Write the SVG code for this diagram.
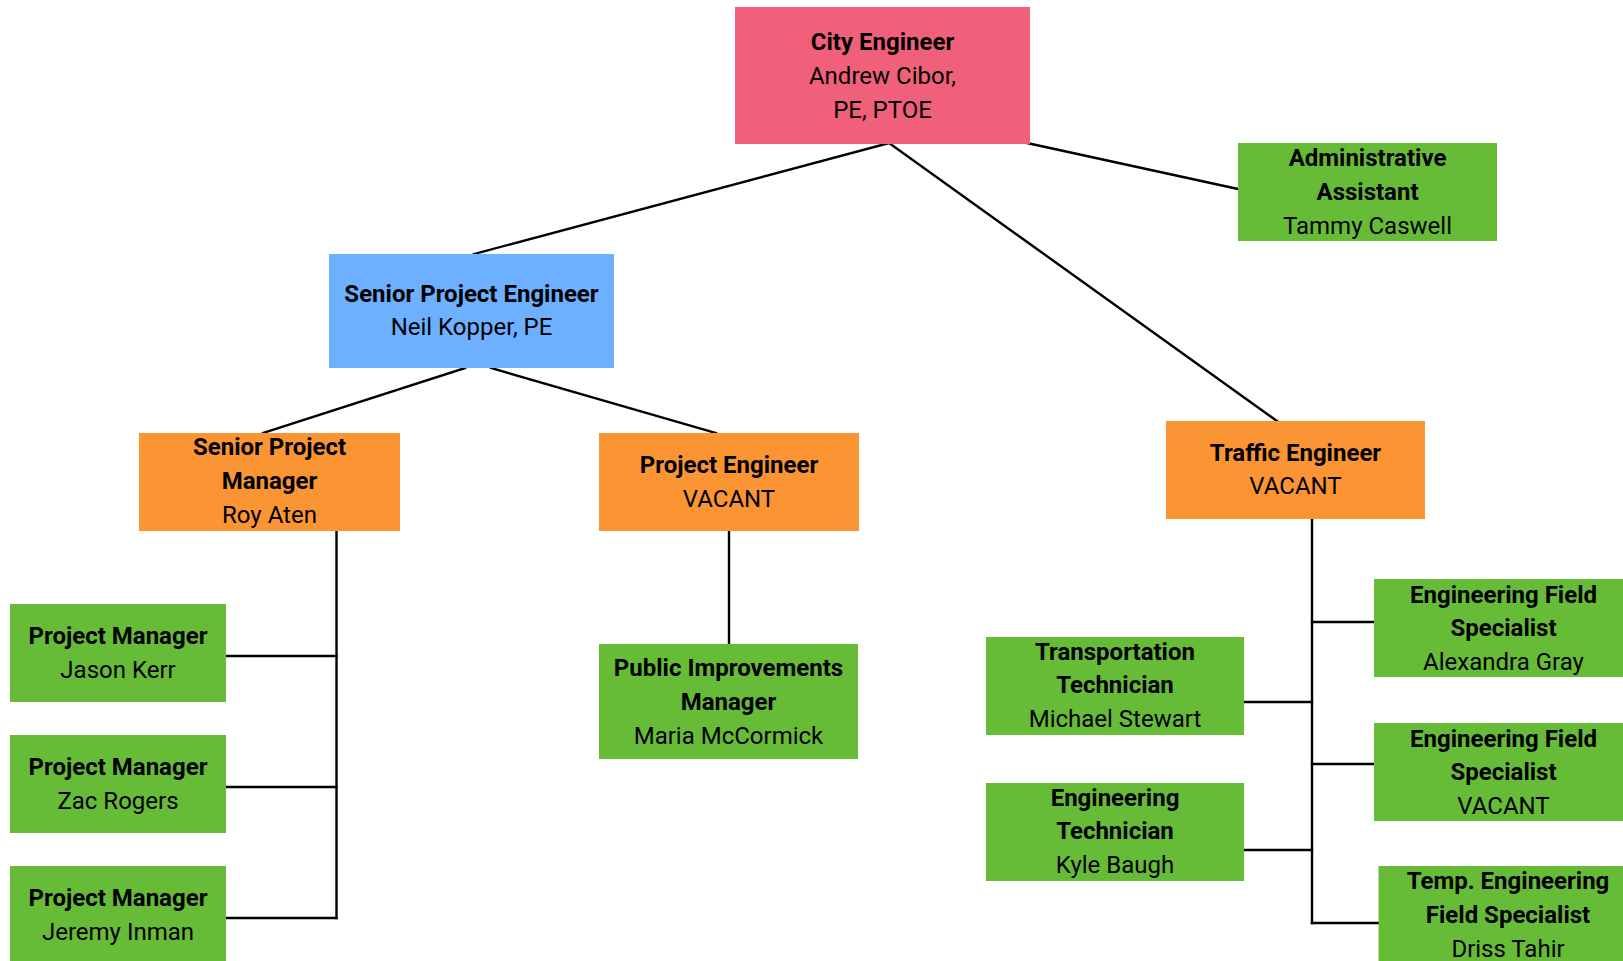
<svg xmlns="http://www.w3.org/2000/svg" width="1623" height="961" viewBox="0 0 1623 961">
<style>
.pink{fill:#F1607A}
.blue{fill:#6CB0FF}
.orange{fill:#FB9533}
.green{fill:#67BC37}
text{font-family:Roboto,"Liberation Sans",sans-serif;font-size:24px;fill:#000;text-anchor:middle}
.b{font-weight:bold}
.conn line{stroke:#000;stroke-width:2.4;stroke-linecap:square}
</style>
<rect width="1623" height="961" fill="#fff"/>
<g class="conn" id="connectors">
<line x1="889" y1="143" x2="474" y2="254"/>
<line x1="889" y1="143" x2="1277" y2="421"/>
<line x1="1027" y1="143" x2="1238" y2="189"/>
<line x1="465" y1="368" x2="263" y2="433"/>
<line x1="491" y1="368" x2="716" y2="433"/>
<line x1="336.5" y1="531" x2="336.5" y2="918"/>
<line x1="226" y1="656" x2="336.5" y2="656"/>
<line x1="226" y1="787" x2="336.5" y2="787"/>
<line x1="226" y1="918" x2="336.5" y2="918"/>
<line x1="729" y1="531" x2="729" y2="644"/>
<line x1="1312" y1="518" x2="1312" y2="923"/>
<line x1="1244" y1="702" x2="1312" y2="702"/>
<line x1="1244" y1="850" x2="1312" y2="850"/>
<line x1="1312" y1="622" x2="1374" y2="622"/>
<line x1="1312" y1="764" x2="1374" y2="764"/>
<line x1="1312" y1="923" x2="1378" y2="923"/>
</g>
<g id="city-engineer">
<rect class="pink" x="735" y="7" width="295" height="137"/>
<text class="b" x="882.5" y="50">City Engineer</text>
<text x="882.5" y="84">Andrew Cibor,</text>
<text x="882.5" y="118">PE, PTOE</text>
</g>
<g id="admin-assistant">
<rect class="green" x="1238" y="143" width="259" height="98"/>
<text class="b" x="1367.5" y="166">Administrative</text>
<text class="b" x="1367.5" y="200">Assistant</text>
<text x="1367.5" y="234">Tammy Caswell</text>
</g>
<g id="senior-project-engineer">
<rect class="blue" x="329" y="254" width="285" height="114"/>
<text class="b" x="471.5" y="302">Senior Project Engineer</text>
<text x="471.5" y="335">Neil Kopper, PE</text>
</g>
<g id="senior-project-manager">
<rect class="orange" x="139" y="433" width="261" height="98"/>
<text class="b" x="269.5" y="455">Senior Project</text>
<text class="b" x="269.5" y="489">Manager</text>
<text x="269.5" y="523">Roy Aten</text>
</g>
<g id="project-engineer">
<rect class="orange" x="599" y="433" width="260" height="98"/>
<text class="b" x="729" y="473">Project Engineer</text>
<text x="729" y="507">VACANT</text>
</g>
<g id="traffic-engineer">
<rect class="orange" x="1166" y="421" width="259" height="98"/>
<text class="b" x="1295.5" y="461">Traffic Engineer</text>
<text x="1295.5" y="494">VACANT</text>
</g>
<g id="pm-jason-kerr">
<rect class="green" x="10" y="604" width="216" height="98"/>
<text class="b" x="118" y="644">Project Manager</text>
<text x="118" y="678">Jason Kerr</text>
</g>
<g id="pm-zac-rogers">
<rect class="green" x="10" y="735" width="216" height="98"/>
<text class="b" x="118" y="775">Project Manager</text>
<text x="118" y="809">Zac Rogers</text>
</g>
<g id="pm-jeremy-inman">
<rect class="green" x="10" y="866" width="216" height="98"/>
<text class="b" x="118" y="906">Project Manager</text>
<text x="118" y="940">Jeremy Inman</text>
</g>
<g id="public-improvements-manager">
<rect class="green" x="599" y="644" width="259" height="115"/>
<text class="b" x="728.5" y="676">Public Improvements</text>
<text class="b" x="728.5" y="710">Manager</text>
<text x="728.5" y="744">Maria McCormick</text>
</g>
<g id="transportation-technician">
<rect class="green" x="986" y="637" width="258" height="98"/>
<text class="b" x="1115" y="660">Transportation</text>
<text class="b" x="1115" y="693">Technician</text>
<text x="1115" y="727">Michael Stewart</text>
</g>
<g id="engineering-technician">
<rect class="green" x="986" y="783" width="258" height="98"/>
<text class="b" x="1115" y="806">Engineering</text>
<text class="b" x="1115" y="839">Technician</text>
<text x="1115" y="873">Kyle Baugh</text>
</g>
<g id="efs-alexandra-gray">
<rect class="green" x="1374" y="579" width="259" height="98"/>
<text class="b" x="1503.5" y="603">Engineering Field</text>
<text class="b" x="1503.5" y="636">Specialist</text>
<text x="1503.5" y="670">Alexandra Gray</text>
</g>
<g id="efs-vacant">
<rect class="green" x="1374" y="723" width="259" height="98"/>
<text class="b" x="1503.5" y="747">Engineering Field</text>
<text class="b" x="1503.5" y="780">Specialist</text>
<text x="1503.5" y="814">VACANT</text>
</g>
<g id="temp-efs">
<rect class="green" x="1378.5" y="866" width="259" height="98"/>
<text class="b" x="1508" y="889">Temp. Engineering</text>
<text class="b" x="1508" y="923">Field Specialist</text>
<text x="1508" y="957">Driss Tahir</text>
</g>
</svg>
